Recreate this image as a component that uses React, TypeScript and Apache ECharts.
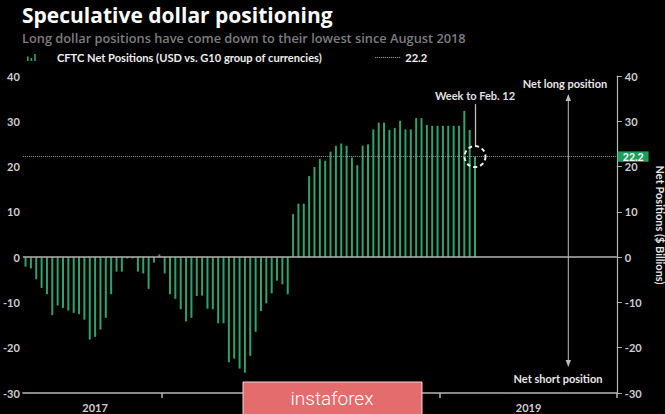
import React, { useEffect, useRef } from 'react';
import * as echarts from 'echarts';

// ---- data ----
const firstWeek = '2017-07-04';
const weekCount = 111; // axis span in weeks (data + empty space to the right)
const netPositions = [
  -2.1, -2.5, -4.9, -6.8, -8.2, -12.8, -10.7, -11.2, -11.8, -12.3,
  -12.6, -13.8, -18.2, -17.6, -16.0, -13.4, -8.2, -3.2, -3.2, -0.3,
  -0.3, -3.2, -3.6, -7.0, -1.2, 0.6, -3.6, -8.2, -9.2, -11.5,
  -14.2, -13.4, -8.6, -8.5, -11.4, -11.5, -14.6, -14.6, -23.2, -22.4,
  -24.6, -25.5, -21.8, -16.5, -11.9, -10.2, -8.0, -5.2, -6.0, -8.2,
  9.5, 11.8, 11.8, 17.9, 19.9, 21.7, 21.3, 23.3, 24.6, 25.1,
  24.6, 22.0, 20.3, 24.6, 24.9, 28.2, 29.7, 29.7, 28.1, 28.5,
  30.1, 28.2, 28.2, 30.7, 30.7, 29.2, 29.0, 29.0, 29.0, 29.0,
  29.0, 29.0, 32.3, 28.1, 22.2,
];
const latestValue = 22.2;
const yTicks = { min: -30, max: 40, interval: 10 };
const visibleYearLabels = ['2017', '2019']; // 2018 is hidden under the watermark in the reference
const seriesName = 'CFTC Net Positions (USD vs. G10 group of currencies)';
const refName = '22.2';
const titleText = 'Speculative dollar positioning';
const subtitleText = 'Long dollar positions have come down to their lowest since August 2018';
const annotationText = 'Week to Feb. 12';

// weekly category dates
const weeks: string[] = [];
{
  const start = new Date(firstWeek + 'T00:00:00Z').getTime();
  for (let i = 0; i < weekCount; i++) {
    weeks.push(new Date(start + i * 7 * 86400000).toISOString().slice(0, 10));
  }
}
const yearOf = (i: number) => weeks[i].slice(0, 4);
const yearStartIdx = new Set<number>();
for (let i = 1; i < weeks.length; i++) if (yearOf(i) !== yearOf(i - 1)) yearStartIdx.add(i);
const yearLabelIdx = new Set<number>();
{
  let s = 0;
  for (let i = 1; i <= weeks.length; i++) {
    if (i === weeks.length || yearOf(i) !== yearOf(i - 1)) {
      const mid = Math.round((s + i - 1) / 2);
      if (visibleYearLabels.includes(yearOf(mid))) yearLabelIdx.add(mid);
      s = i;
    }
  }
}
const lastWeek = weeks[netPositions.length - 1];

const FONT = '"Open Sans", Lato, sans-serif';
const NARROW = '"Liberation Sans Narrow", Lato, sans-serif';
const GREEN = '#2fa36b';

const dotPath = (() => {
  let p = 'path://';
  for (let i = 0; i < 13; i++) p += `M${i * 2},0h1v1h-1z`;
  return p;
})();
const barIconPath = 'path://M0,3.5h1.6v4.5h-1.6zM3.6,5h1.6v3h-1.6zM7.2,1h1.6v7h-1.6zM24.99,7.99h0.01v0.01h-0.01z';

export default function App() {
  const ref = useRef<HTMLDivElement>(null);
  useEffect(() => {
    if (!ref.current) return;
    const chart = echarts.init(ref.current, undefined, { renderer: 'svg' });
    const axisLabelStyle = { color: '#cfcfcf', fontSize: 11, fontWeight: 'bold' as const, fontFamily: NARROW };
    chart.setOption({
      animation: false,
      backgroundColor: '#000',
      title: {
        text: titleText,
        subtext: subtitleText,
        left: 22,
        top: 0,
        padding: 0,
        itemGap: 2,
        textStyle: { color: '#fff', fontSize: 21, fontWeight: 'bold', fontFamily: FONT, lineHeight: 29 },
        subtextStyle: { color: '#7d7d7d', fontSize: 12.8, fontWeight: 600, fontFamily: FONT, lineHeight: 14 },
      },
      legend: {
        left: 27,
        top: 52,
        padding: 0,
        itemGap: 53,
        itemWidth: 25,
        itemHeight: 8,
        selectedMode: false,
        textStyle: { color: '#eee', fontSize: 11.1, fontWeight: 'bold', fontFamily: NARROW },
        data: [
          { name: seriesName, icon: barIconPath },
          { name: refName, icon: dotPath },
        ],
      },
      grid: { left: 19.6, right: 48.2, top: 76, bottom: 21, containLabel: false },
      xAxis: {
        type: 'category',
        data: weeks,
        boundaryGap: true,
        axisLine: { show: true, onZero: false, lineStyle: { color: '#b5b5b5', width: 1.5 } },
        axisTick: {
          show: true,
          length: 5,
          interval: (i: number) => yearStartIdx.has(i),
          lineStyle: { color: '#b5b5b5', width: 1.5 },
        },
        axisLabel: {
          ...axisLabelStyle,
          margin: 9,
          interval: (i: number) => yearLabelIdx.has(i),
          formatter: (v: string) => v.slice(0, 4),
        },
        splitLine: { show: false },
      },
      yAxis: [
        {
          type: 'value',
          position: 'left',
          ...yTicks,
          axisLine: { show: false },
          axisTick: { show: false },
          splitLine: { show: false },
          axisLabel: { ...axisLabelStyle, margin: 3 },
        },
        {
          type: 'value',
          position: 'right',
          ...yTicks,
          axisLine: { show: true, lineStyle: { color: '#b5b5b5', width: 1.2 } },
          axisTick: { show: true, length: 5, lineStyle: { color: '#b5b5b5' } },
          splitLine: { show: false },
          axisLabel: { ...axisLabelStyle, margin: 8 },
        },
      ],
      series: [
        {
          name: seriesName,
          type: 'bar',
          data: netPositions,
          barWidth: 2,
          itemStyle: { color: GREEN },
          z: 3,
          markLine: {
            silent: true,
            symbol: ['none', 'none'],
            data: [
              { yAxis: 0, lineStyle: { type: 'solid', color: '#b5b5b5', width: 1.5 }, label: { show: false } },
              {
                yAxis: latestValue,
                lineStyle: { type: 'dotted', color: '#9a9a9a', width: 1 },
                label: {
                  show: true,
                  position: 'end',
                  formatter: String(latestValue),
                  distance: 1,
                  backgroundColor: '#1f9d5d',
                  color: '#fff',
                  padding: [1, 5, 0, 5],
                  lineHeight: 9.5,
                  fontSize: 10.5,
                  fontWeight: 'bold',
                  fontFamily: NARROW,
                },
              },
              [
                {
                  coord: [lastWeek, 24.5],
                  lineStyle: { type: 'solid', color: '#bdbdbd', width: 1.3 },
                  label: {
                    show: true,
                    position: 'end',
                    formatter: annotationText,
                    distance: 3,
                    color: '#e0e0e0',
                    fontSize: 11,
                    fontWeight: 'bold',
                    fontFamily: NARROW,
                  },
                },
                { coord: [lastWeek, 33.8] },
              ],
            ],
          },
          markPoint: {
            silent: true,
            data: [
              {
                coord: [lastWeek, latestValue],
                symbol: 'circle',
                symbolSize: 21,
                itemStyle: { color: 'rgba(0,0,0,0)', borderColor: '#eeeeee', borderWidth: 2, borderType: [4, 3] },
                label: { show: false },
              },
            ],
          },
        },
        {
          name: refName,
          type: 'line',
          data: [],
          itemStyle: { color: '#aaaaaa' },
          lineStyle: { type: 'dotted', color: '#aaaaaa' },
        },
      ],
      graphic: [
        {
          type: 'text',
          x: 565,
          y: 83,
          style: { text: 'Net long position', fill: '#e6e6e6', font: `bold 11px ${NARROW}`, textAlign: 'center', textVerticalAlign: 'middle' },
        },
        {
          type: 'text',
          x: 558,
          y: 378,
          style: { text: 'Net short position', fill: '#e6e6e6', font: `bold 11px ${NARROW}`, textAlign: 'center', textVerticalAlign: 'middle' },
        },
        { type: 'line', shape: { x1: 568.3, y1: 97, x2: 568.3, y2: 364 }, style: { stroke: '#bdbdbd', lineWidth: 1 } },
        { type: 'polygon', shape: { points: [[568.3, 94], [565.6, 101], [571, 101]] }, style: { fill: '#bdbdbd' } },
        { type: 'polygon', shape: { points: [[568.3, 367], [565.6, 360], [571, 360]] }, style: { fill: '#bdbdbd' } },
        {
          type: 'text',
          x: 660,
          y: 225,
          rotation: -Math.PI / 2,
          style: { text: 'Net Positions ($ Billions)', fill: '#e6e6e6', font: `bold 11px ${NARROW}`, textAlign: 'center', textVerticalAlign: 'middle' },
        },
        {
          type: 'rect',
          z: 100,
          shape: { x: 243, y: 382, width: 179, height: 40 },
          style: { fill: '#e46c6c', stroke: '#f3d6d6', lineWidth: 1 },
        },
        {
          type: 'text',
          z: 101,
          x: 332,
          y: 398,
          style: { text: 'instaforex', fill: '#ffffff', font: '300 19px Roboto, sans-serif', textAlign: 'center', textVerticalAlign: 'middle' },
        },
      ],
    });
    return () => chart.dispose();
  }, []);
  return <div ref={ref} style={{ position: 'absolute', left: 0, top: 0, width: 665, height: 414 }} />;
}
